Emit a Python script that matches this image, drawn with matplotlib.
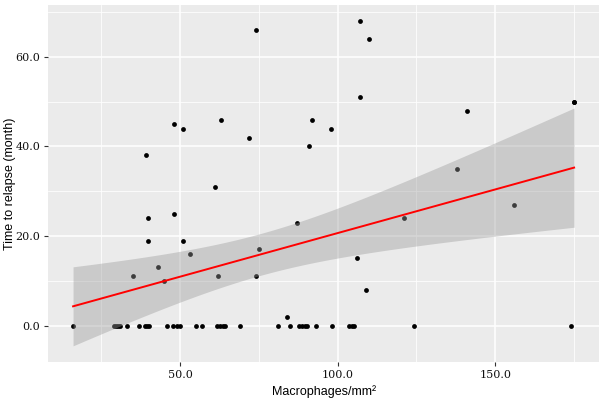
import numpy as np
import matplotlib
matplotlib.use("Agg")
import matplotlib.pyplot as plt
from matplotlib.ticker import FormatStrFormatter

# macrophage density vs time to relapse
zero_x = [16.1, 29.0, 29.7, 30.3, 31.0, 33.1, 37.0, 38.9, 39.6, 40.3, 46.0,
          47.9, 49.0, 50.0, 55.0, 57.1, 61.8, 62.7, 63.6, 64.3, 69.0, 81.0,
          85.0, 87.9, 88.8, 89.6, 90.4, 93.1, 98.2, 103.7, 104.5, 105.3,
          124.1, 174.0]
# (175, 50) appears twice - overlapping points, needed to reproduce the fit
pos_x = [39.9, 51.0, 53.1, 43.0, 35.2, 45.0, 62.1, 74.0, 75.1, 48.1, 51.0,
         63.1, 72.0, 39.1, 61.0, 40.0, 48.1, 107.0, 110.0, 107.0, 92.0, 98.0,
         91.0, 141.0, 175.0, 175.0, 138.0, 121.1, 156.0, 106.1, 109.0, 74.0,
         87.0, 84.1]
pos_y = [19, 19, 16, 13, 11, 10, 11, 11, 17, 45, 44, 46, 42, 38, 31, 24, 25,
         68, 64, 51, 46, 44, 40, 48, 50, 50, 35, 24, 27, 15, 8, 66, 23, 2]

x = np.array(zero_x + pos_x)
y = np.array([0.0] * len(zero_x) + pos_y)

# linear fit with 95% confidence band (like geom_smooth(method="lm"))
n = len(x)
b, a = np.polyfit(x, y, 1)
xs = np.linspace(x.min(), x.max(), 100)
fit = a + b * xs
resid = y - (a + b * x)
s = np.sqrt(np.sum(resid ** 2) / (n - 2))
se = s * np.sqrt(1 / n + (xs - x.mean()) ** 2 / np.sum((x - x.mean()) ** 2))
tq = 1.997
lo, hi = fit - tq * se, fit + tq * se

fig = plt.figure(figsize=(6.04, 4.05), dpi=100)
ax = fig.add_axes([0.0795, 0.106, 0.9125, 0.882])
ax.set_facecolor("#EBEBEB")
for sp in ax.spines.values():
    sp.set_visible(False)

ax.scatter(x, y, s=12, color="black", zorder=3, linewidths=0)
ax.fill_between(xs, lo, hi, color="#999999", alpha=0.4, linewidth=0, zorder=4)
ax.plot(xs, fit, color="red", lw=1.4, zorder=5)

xr = x.max() - x.min()
ax.set_xlim(x.min() - 0.05 * xr, x.max() + 0.05 * xr)
ymin, ymax = min(lo.min(), y.min()), max(hi.max(), y.max())
yr = ymax - ymin
ax.set_ylim(ymin - 0.05 * yr, ymax + 0.05 * yr)

ax.set_xticks([50, 100, 150])
ax.set_yticks([0, 20, 40, 60])
ax.set_xticks([25, 75, 125, 175], minor=True)
ax.set_yticks([10, 30, 50, 70], minor=True)
ax.xaxis.set_major_formatter(FormatStrFormatter("%.1f"))
ax.yaxis.set_major_formatter(FormatStrFormatter("%.1f"))
ax.grid(which="major", color="white", lw=1.1, zorder=0)
ax.grid(which="minor", color="white", lw=0.55, zorder=0)
ax.set_axisbelow(True)
ax.tick_params(which="major", length=3, width=0.8, color="#333333",
               labelsize=8, labelcolor="#111111", pad=2.5)
ax.tick_params(which="minor", length=0)
for lab in ax.get_xticklabels() + ax.get_yticklabels():
    lab.set_family("DejaVu Serif")

ax.set_xlabel("Macrophages/mm²", family="Liberation Sans", fontsize=9)
ax.set_ylabel("Time to relapse (month)", family="Liberation Sans", fontsize=9)
ax.xaxis.set_label_coords(0.5, -0.064)
ax.yaxis.set_label_coords(-0.058, 0.5)

fig.savefig("out.png", dpi=100)
